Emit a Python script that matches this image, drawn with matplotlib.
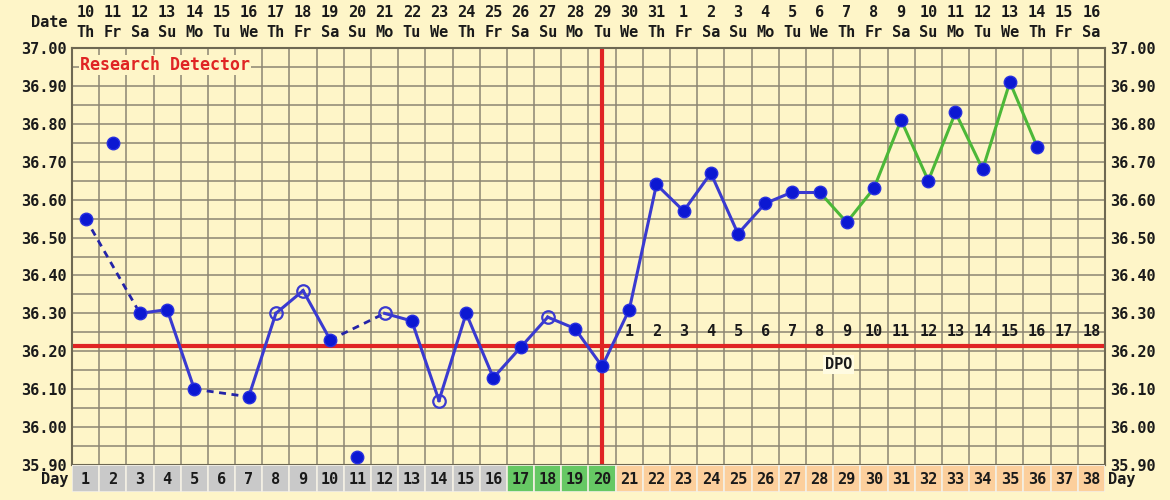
import matplotlib
matplotlib.use('Agg')
import matplotlib.pyplot as plt
import numpy as np

# DATA
cycle_days = list(range(1, 39))
dates = ['10', '11', '12', '13', '14', '15', '16', '17', '18', '19', '20', '21', '22', '23', '24',
         '25', '26', '27', '28', '29', '30', '31', '1', '2', '3', '4', '5', '6', '7', '8', '9',
         '10', '11', '12', '13', '14', '15', '16']
weekdays = ['Th', 'Fr', 'Sa', 'Su', 'Mo', 'Tu', 'We', 'Th', 'Fr', 'Sa', 'Su', 'Mo', 'Tu', 'We',
            'Th', 'Fr', 'Sa', 'Su', 'Mo', 'Tu', 'We', 'Th', 'Fr', 'Sa', 'Su', 'Mo', 'Tu', 'We',
            'Th', 'Fr', 'Sa', 'Su', 'Mo', 'Tu', 'We', 'Th', 'Fr', 'Sa']
temp_days = list(range(1, 37))
temps = [36.55, 36.75, 36.30, 36.31, 36.10, None, 36.08, 36.30, 36.36, 36.23, 35.92, 36.30,
         36.28, 36.07, 36.30, 36.13, 36.21, 36.29, 36.26, 36.16, 36.31, 36.64, 36.57, 36.67,
         36.51, 36.59, 36.62, 36.62, 36.54, 36.63, 36.81, 36.65, 36.83, 36.68, 36.91, 36.74]
open_days = [8, 9, 12, 14, 18]        # open circles
discarded_days = [2, 11]              # plotted but not connected
fertile_days = [17, 18, 19, 20]
ovulation_day = 20
coverline = 36.215
green_from = 28
dpo_labels = [str(k) for k in range(1, 19)]

# COLORS
bg = '#fef5c8'
gridc = '#8c8672'
blue = '#0c18d2'
line_blue = '#3a3ad0'
green = '#4cb838'
red = '#e02424'
txt = '#1a1a1a'
font = dict(family='DejaVu Sans Mono', fontweight='bold', fontsize=11)

fig = plt.figure(figsize=(11.7, 5), dpi=100, facecolor=bg)
ax = fig.add_axes([72/1170, 1-465/500, (1105-72)/1170, (465-48)/500], facecolor=bg)
ax.set_xlim(0.5, 38.5)
ax.set_ylim(35.90, 37.00)

# grid
ax.set_xticks([])
ax.set_xticks(np.arange(0.5, 38.6, 1), minor=True)
ax.set_yticks(np.round(np.arange(35.90, 37.001, 0.10), 2))
ax.set_yticks(np.round(np.arange(35.95, 37.0, 0.10), 2), minor=True)
ax.grid(True, which='both', color=gridc, lw=1.1, zorder=0)
ax.set_axisbelow(True)
ax.tick_params(which='both', length=0)
ax.tick_params(axis='y', labelleft=True, labelright=True, pad=4, colors=txt)
ax.set_yticklabels(['%.2f' % v for v in ax.get_yticks()])
for lab in ax.get_yticklabels():
    lab.set_fontfamily('DejaVu Sans Mono')
    lab.set_fontweight('bold')
    lab.set_fontsize(11)
for sp in ax.spines.values():
    sp.set_color('#6e6852')
    sp.set_linewidth(1.5)

# coverline and ovulation line
ax.axhline(coverline, color=red, lw=3, zorder=2)
ax.axvline(ovulation_day, color=red, lw=3, zorder=2)

# connected series
pts = [(d, t) for d, t in zip(temp_days, temps) if t is not None and d not in discarded_days]
for (d0, t0), (d1, t1) in zip(pts[:-1], pts[1:]):
    c = green if d0 >= green_from else line_blue
    if d1 - d0 > 1:
        ax.plot([d0, d1], [t0, t1], color='#2424a8', lw=2, ls=(0, (2.5, 2)), zorder=3)
    else:
        ax.plot([d0, d1], [t0, t1], color=c, lw=2.2, zorder=3)

for d, t in zip(temp_days, temps):
    if t is None:
        continue
    if d in open_days:
        ax.plot(d, t, 'o', ms=9, mfc='none', mec=line_blue, mew=1.6, zorder=4)
    else:
        ax.plot(d, t, 'o', ms=9, mfc=blue, mec='#2830e0', mew=1, zorder=4)

# DPO numbers
for k, lab in enumerate(dpo_labels, start=1):
    ax.text(ovulation_day + k, coverline + 0.017, lab, ha='center', va='bottom', color=txt,
            zorder=5, **font)
ax.text(28.7, 36.165, 'DPO', ha='center', va='center', color=txt, zorder=5,
        bbox=dict(facecolor='#fffbe2', edgecolor='none', pad=1.5), **font)

ax.text(0.8, 36.955, 'Research Detector', ha='left', va='center', color=red, zorder=5,
        family='DejaVu Sans Mono', fontweight='bold', fontsize=12,
        bbox=dict(facecolor=bg, edgecolor='none', pad=1))

# header dates
xt = ax.get_xaxis_transform()
for d, ds, wd in zip(cycle_days, dates, weekdays):
    ax.text(d, 1.084, ds, transform=xt, ha='center', va='center', color=txt, **font)
    ax.text(d, 1.036, wd, transform=xt, ha='center', va='center', color=txt, **font)
ax.text(0.35, 1.062, 'Date', transform=xt, ha='right', va='center', color=txt, **font)

# day row
dax = fig.add_axes([72/1170, 1-492/500, (1105-72)/1170, 27/500])
dax.set_xlim(0.5, 38.5)
dax.set_ylim(0, 1)
dax.axis('off')
cols = []
for d in cycle_days:
    if d in fertile_days:
        cols.append('#66c864')
    elif d > ovulation_day:
        cols.append('#fccf9c')
    else:
        cols.append('#c9c9c9')
dax.bar(cycle_days, 1, width=1, bottom=0, color=cols, edgecolor='#f4f0e4', lw=1.2)
for d in cycle_days:
    dax.text(d, 0.45, str(d), ha='center', va='center', color=txt, **font)
dax.text(0.35, 0.45, 'Day', ha='right', va='center', color=txt, **font)
dax.text(38.62, 0.45, 'Day', ha='left', va='center', color=txt, **font)

fig.savefig('out.png', dpi=100, facecolor=bg)
